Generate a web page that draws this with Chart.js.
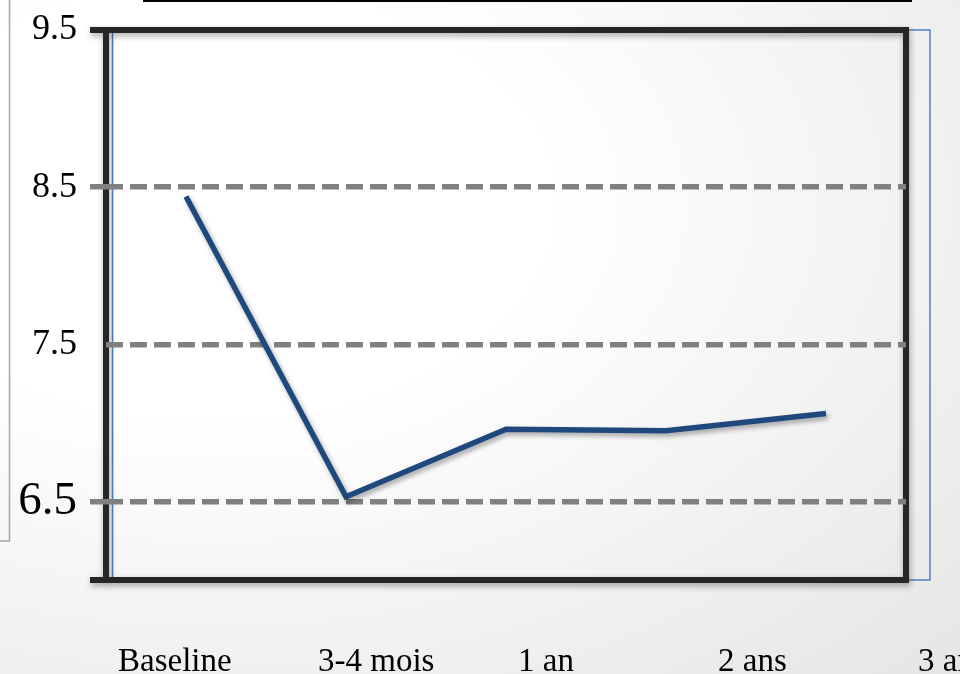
<!DOCTYPE html>
<html>
<head>
<meta charset="utf-8">
<title>HbA1c</title>
<script src="https://cdn.jsdelivr.net/npm/chart.js@4.4.1/dist/chart.umd.min.js"></script>
<style>
  html, body { margin: 0; padding: 0; }
  body {
    width: 960px; height: 674px; overflow: hidden;
    background: radial-gradient(ellipse at 22% 30%, #ffffff 32%, #e2e2e2 108%);
  }
  canvas { display: block; }
</style>
</head>
<body>
<canvas id="chart" width="960" height="674"></canvas>
<script>
const categories = ['Baseline', '3-4 mois', '1 an', '2 ans', '3 ans'];
const values = [8.44, 6.53, 6.96, 6.95, 7.06];
const yTicks = [6.5, 7.5, 8.5, 9.5];
const yMin = 6;
const yMax = 9.5;

// slide leftovers + thick frame, drawn under the grid lines
const framePlugin = {
    id: 'frame',
    beforeDraw(chart) {
        const {ctx, chartArea: a} = chart;
        ctx.save();
        ctx.strokeStyle = '#000';
        ctx.lineWidth = 2;
        ctx.beginPath(); ctx.moveTo(143, 1); ctx.lineTo(912, 1); ctx.stroke();
        ctx.strokeStyle = '#a6a6a6';
        ctx.lineWidth = 1.5;
        ctx.beginPath(); ctx.moveTo(9.5, 0); ctx.lineTo(9.5, 541); ctx.lineTo(0, 541); ctx.stroke();

        ctx.strokeStyle = '#4f81bd';
        ctx.lineWidth = 1.5;
        ctx.beginPath(); ctx.moveTo(a.left + 6.5, a.top); ctx.lineTo(a.left + 6.5, a.bottom); ctx.stroke();
        ctx.strokeRect(a.right, a.top, 24, a.bottom - a.top);

        ctx.shadowColor = 'rgba(0,0,0,0.35)';
        ctx.shadowBlur = 6;
        ctx.shadowOffsetX = 1;
        ctx.shadowOffsetY = 3;
        ctx.strokeStyle = '#262626';
        ctx.lineWidth = 6;
        ctx.beginPath();
        ctx.moveTo(a.left - 16, a.top);
        ctx.lineTo(a.right, a.top);
        ctx.lineTo(a.right, a.bottom);
        ctx.lineTo(a.left - 16, a.bottom);
        ctx.moveTo(a.left, a.top);
        ctx.lineTo(a.left, a.bottom);
        ctx.stroke();
        ctx.restore();
    }
};

const lineShadow = {
    id: 'lineShadow',
    beforeDatasetDraw(chart) {
        const c = chart.ctx;
        c.save();
        c.shadowColor = 'rgba(0,0,0,0.35)';
        c.shadowBlur = 5;
        c.shadowOffsetX = 2;
        c.shadowOffsetY = 3;
    },
    afterDatasetDraw(chart) {
        chart.ctx.restore();
    }
};

const serif = 'Liberation Serif';

new Chart(document.getElementById('chart'), {
    type: 'line',
    data: {
        labels: categories,
        datasets: [{
            data: values,
            xAxisID: 'x',
            yAxisID: 'y',
            borderColor: '#1f497d',
            borderWidth: 5.5,
            borderCapStyle: 'butt',
            borderJoinStyle: 'miter',
            pointRadius: 0,
            tension: 0,
            fill: false
        }]
    },
    options: {
        responsive: false,
        animation: false,
        layout: { padding: { top: 30, right: 54, left: 0, bottom: 0 } },
        plugins: { legend: { display: false }, tooltip: { enabled: false } },
        scales: {
            x: { type: 'category', display: false, offset: true },
            xl: {
                type: 'category',
                labels: categories,
                position: 'bottom',
                offset: false,
                grid: { display: false, drawTicks: false },
                border: { display: false },
                ticks: {
                    align: 'start',
                    labelOffset: 12,
                    padding: 63,
                    autoSkip: false,
                    maxRotation: 0,
                    color: '#000',
                    font: { family: serif, size: 33 }
                },
                afterFit(s) { s.height = 94; s.paddingLeft = 0; s.paddingRight = 0; }
            },
            y: {
                min: yMin,
                max: yMax,
                afterBuildTicks(s) { s.ticks = yTicks.map(v => ({ value: v })); },
                grid: {
                    color: c => (c.tick && c.tick.value === yMax) ? 'rgba(0,0,0,0)' : '#808080',
                    lineWidth: 5.5,
                    tickLength: 16,
                    tickWidth: 5.5,
                    tickColor: c => (c.tick && (c.tick.value === 8.5 || c.tick.value === 6.5)) ? '#808080' : 'rgba(0,0,0,0)',
                    tickBorderDash: [17, 7]
                },
                border: { display: false, dash: [17, 7] },
                ticks: {
                    padding: 13,
                    color: '#000',
                    font: c => ({ family: serif, size: (c.tick && c.tick.value === 6.5) ? 47 : 36 }),
                    callback: v => v.toFixed(1)
                },
                afterFit(s) { s.width = 106; s.paddingTop = 0; s.paddingBottom = 0; }
            }
        }
    },
    plugins: [framePlugin, lineShadow]
});
</script>
</body>
</html>
